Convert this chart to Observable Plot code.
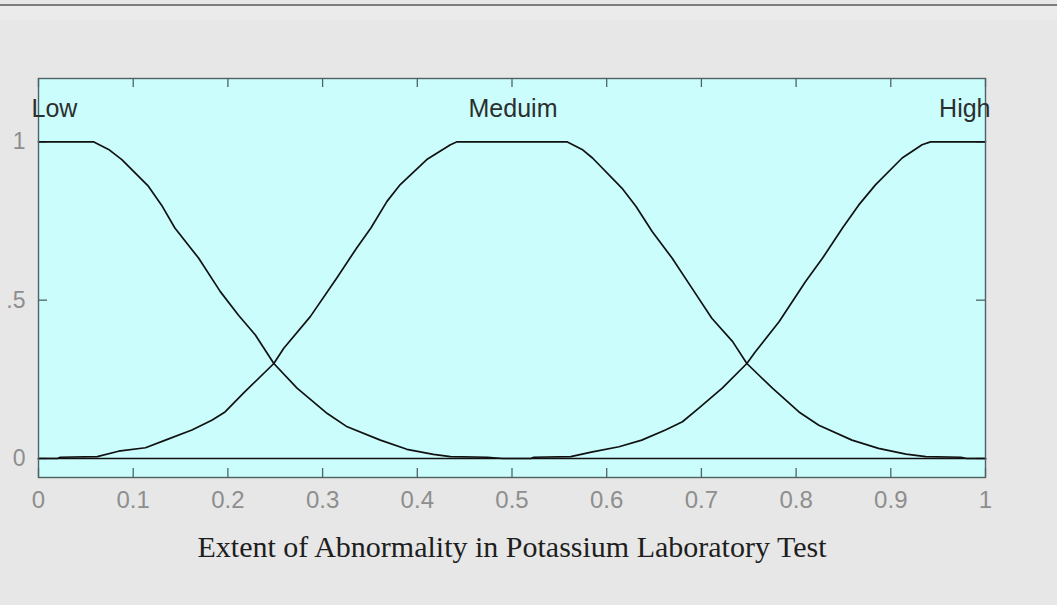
<!DOCTYPE html>
<html>
<head>
<meta charset="utf-8">
<script src="https://cdn.jsdelivr.net/npm/d3@7"></script>
<script src="https://cdn.jsdelivr.net/npm/@observablehq/plot@0.6"></script>
<style>
  html, body { margin: 0; padding: 0; background: #e7e7e7; width: 1057px; height: 605px; overflow: hidden; }
  #topline { position: absolute; left: 0; top: 4px; width: 1057px; height: 2px; background: #7d7d7d; }
  #band { position: absolute; left: 0; top: 6px; width: 1057px; height: 14px; background: #ebebeb; }
  #chart { position: absolute; left: 0; top: 0; }
</style>
</head>
<body>
<div id="band"></div>
<div id="topline"></div>
<div id="chart"></div>
<script>
// ---- data ----
const lowX  = [0, 0.058, 0.074, 0.088, 0.116, 0.130, 0.144, 0.169, 0.192, 0.211, 0.229, 0.2485, 0.273, 0.305, 0.326, 0.361, 0.389, 0.417, 0.435, 0.474, 0.49, 1];
const lowY  = [1, 1, 0.976, 0.944, 0.86, 0.80, 0.728, 0.633, 0.527, 0.453, 0.39, 0.30, 0.222, 0.142, 0.10, 0.058, 0.029, 0.013, 0.006, 0.004, 0, 0];

const medX  = [0, 0.02, 0.023, 0.062, 0.0845, 0.113, 0.134, 0.162, 0.183, 0.197, 0.218, 0.2485, 0.259, 0.287, 0.315, 0.336, 0.351, 0.368, 0.382, 0.410, 0.435, 0.442, 0.558, 0.574, 0.585, 0.616, 0.631, 0.648, 0.669, 0.690, 0.711, 0.733, 0.748, 0.775, 0.803, 0.824, 0.859, 0.887, 0.916, 0.937, 0.974, 0.98, 1];
const medY  = [0, 0, 0.004, 0.006, 0.023, 0.034, 0.058, 0.09, 0.121, 0.147, 0.211, 0.30, 0.348, 0.448, 0.57, 0.665, 0.728, 0.812, 0.865, 0.944, 0.991, 1, 1, 0.976, 0.949, 0.854, 0.796, 0.717, 0.633, 0.538, 0.443, 0.369, 0.30, 0.222, 0.147, 0.105, 0.058, 0.032, 0.014, 0.006, 0.004, 0, 0];

const highX = [0, 0.52, 0.523, 0.562, 0.585, 0.613, 0.637, 0.662, 0.680, 0.697, 0.722, 0.748, 0.757, 0.782, 0.810, 0.828, 0.849, 0.866, 0.884, 0.912, 0.933, 0.942, 1];
const highY = [0, 0, 0.004, 0.006, 0.021, 0.037, 0.058, 0.09, 0.116, 0.158, 0.222, 0.30, 0.337, 0.432, 0.559, 0.633, 0.728, 0.80, 0.865, 0.949, 0.991, 1, 1];

const mfNames   = ["Low", "Meduim", "High"];
const mfLabelX  = [0, 0.5, 1];
const mfLabelY  = [1.105, 1.105, 1.105];

const xTicks      = [0, 0.1, 0.2, 0.3, 0.4, 0.5, 0.6, 0.7, 0.8, 0.9, 1];
const xTickLabels = ["0", "0.1", "0.2", "0.3", "0.4", "0.5", "0.6", "0.7", "0.8", "0.9", "1"];
const yTicks      = [0, 0.5, 1];
const yTickLabels = ["0", ".5", "1"];

const xTitle = "Extent of Abnormality in Potassium Laboratory Test";

// ---- build tables ----
const curves = [
  ...lowX.map((x, i) => ({mf: "Low", x, y: lowY[i]})),
  ...medX.map((x, i) => ({mf: "Meduim", x, y: medY[i]})),
  ...highX.map((x, i) => ({mf: "High", x, y: highY[i]}))
];
const labels = mfNames.map((name, i) => ({name, x: mfLabelX[i], y: mfLabelY[i]}));

const W = 1057, H = 605;
const mT = 78, mB = 128, mL = 38, mR = 72;
const frameH = H - mT - mB;
const frameW = W - mL - mR;
const tickLen = 9;

const chart = Plot.plot({
  width: W,
  height: H,
  marginTop: mT,
  marginBottom: mB,
  marginLeft: mL,
  marginRight: mR,
  style: {background: "transparent", fontFamily: "'Liberation Sans', Arial, sans-serif"},
  x: {domain: [0, 1]},
  y: {domain: [-0.06, 1.2]},
  marks: [
    Plot.frame({fill: "#cbfdfd", stroke: "none"}),
    // inward ticks on all four sides
    Plot.ruleX(xTicks, {x: d => d, insetTop: frameH - tickLen, stroke: "#4f6565", strokeWidth: 1.3}),
    Plot.ruleX(xTicks, {x: d => d, insetBottom: frameH - tickLen, stroke: "#4f6565", strokeWidth: 1.3}),
    Plot.ruleY(yTicks, {y: d => d, insetRight: frameW - tickLen, stroke: "#4f6565", strokeWidth: 1.3}),
    Plot.ruleY(yTicks, {y: d => d, insetLeft: frameW - tickLen, stroke: "#4f6565", strokeWidth: 1.3}),
    Plot.line(curves, {x: "x", y: "y", z: "mf", stroke: "#111", strokeWidth: 1.7}),
    Plot.frame({stroke: "#4f6262", strokeWidth: 1.4}),
    Plot.axisX(xTicks, {
      tickSize: 0, tickPadding: 13, fontSize: 24, fill: "#8e8e8e",
      tickFormat: (d, i) => xTickLabels[i], label: null
    }),
    Plot.axisY(yTicks, {
      tickSize: 0, tickPadding: 13, fontSize: 23, fill: "#8e8e8e",
      tickFormat: (d, i) => yTickLabels[i], label: null
    }),
    Plot.text(labels.slice(0, 1), {x: "x", y: "y", text: "name", textAnchor: "start", dx: -7, fontSize: 25, fill: "#2b2f2f"}),
    Plot.text(labels.slice(1, 2), {x: "x", y: "y", text: "name", textAnchor: "middle", dx: 1, fontSize: 25, fill: "#2b2f2f"}),
    Plot.text(labels.slice(2, 3), {x: "x", y: "y", text: "name", textAnchor: "end", dx: 5, fontSize: 25, fill: "#2b2f2f"}),
    Plot.text([xTitle], {
      frameAnchor: "bottom", text: d => d, dy: 79, dx: 0,
      fontSize: 30, fill: "#1e1e1e",
      fontFamily: "'Liberation Serif', 'Times New Roman', serif"
    })
  ]
});
document.getElementById("chart").appendChild(chart);
</script>
</body>
</html>
